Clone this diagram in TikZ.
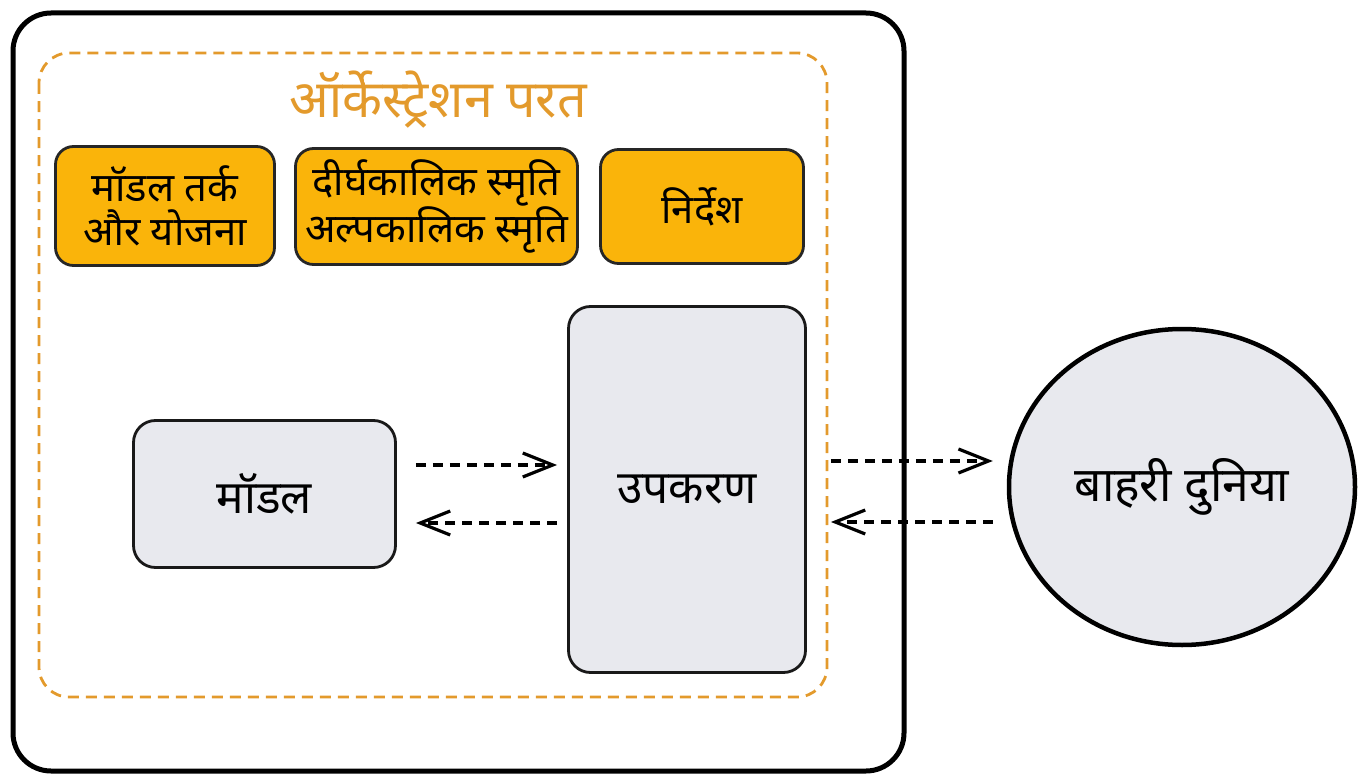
\documentclass[tikz,border=0pt]{standalone}
\usepackage{fontspec}
\setmainfont[Script=Devanagari]{Noto Sans}
\usetikzlibrary{arrows.meta,shapes.geometric}
\definecolor{orng}{HTML}{E39A2C}
\definecolor{yel}{HTML}{FAB40A}
\definecolor{gry}{HTML}{E8E9EE}
\tikzset{
  ybox/.style={draw=black!85, line width=2.8pt, fill=yel, rounded corners=18pt, align=center, font=\fontsize{40}{44}\selectfont, inner sep=0pt},
  gbox/.style={draw=black!90, line width=2.8pt, fill=gry, rounded corners=22pt, align=center, font=\fontsize{46}{50}\selectfont, inner sep=0pt},
  darr/.style={line width=3.2pt, dash pattern=on 10pt off 7pt, -{Straight Barb[length=30pt,width=24pt,line width=3.2pt]}},
}
\begin{document}
\begin{tikzpicture}[x=1pt,y=-1pt]
\useasboundingbox (0,0) rectangle (1366,784);
% outer container
\draw[line width=5pt, rounded corners=38pt] (13,13) rectangle (904,771);
% orchestration layer
\draw[orng, line width=2.8pt, dash pattern=on 11pt off 7pt, rounded corners=30pt] (39,53) rectangle (827,697);
\node[text=orng, font=\fontsize{52}{56}\selectfont] (title) at (438,100) {ऑर्केस्ट्रेशन परत};
% yellow boxes
\node[ybox, minimum width=219pt, minimum height=119pt] (reason) at (165,206) {मॉडल तर्क\\और योजना};
\node[ybox, minimum width=282pt, minimum height=116pt] (memory) at (436.5,206.5) {दीर्घकालिक स्मृति\\अल्पकालिक स्मृति};
\node[ybox, minimum width=203pt, minimum height=114pt] (instr) at (702,206.5) {निर्देश};
% gray boxes
\node[gbox, minimum width=262pt, minimum height=147pt] (model) at (264.5,494) {मॉडल};
\node[gbox, minimum width=237pt, minimum height=366pt] (tools) at (687,489.5) {उपकरण};
% world
\node[ellipse, draw=black, line width=4.5pt, fill=gry, minimum width=346pt, minimum height=316pt, inner sep=0pt, font=\fontsize{48}{52}\selectfont] (world) at (1182,487) {बाहरी दुनिया};
% connectors
\coordinate (tA) at ([xshift=-10pt]tools.west |- 0,465);
\coordinate (tB) at ([xshift=-10pt]tools.west |- 0,523);
\coordinate (mA) at ([xshift=19pt]model.east |- 0,465);
\coordinate (mB) at ([xshift=19pt]model.east |- 0,523);
\draw[darr] (mA) -- (tA);
\draw[darr] (tB) -- (mB);
\coordinate (oA) at ([xshift=24pt]tools.east |- 0,461);
\coordinate (oB) at ([xshift=24pt]tools.east |- 0,522);
\coordinate (wA) at ([xshift=-14pt]world.west |- 0,461);
\coordinate (wB) at ([xshift=-14pt]world.west |- 0,522);
\draw[darr] (oA) -- (wA);
\draw[darr] (wB) -- (oB);
\end{tikzpicture}
\end{document}
